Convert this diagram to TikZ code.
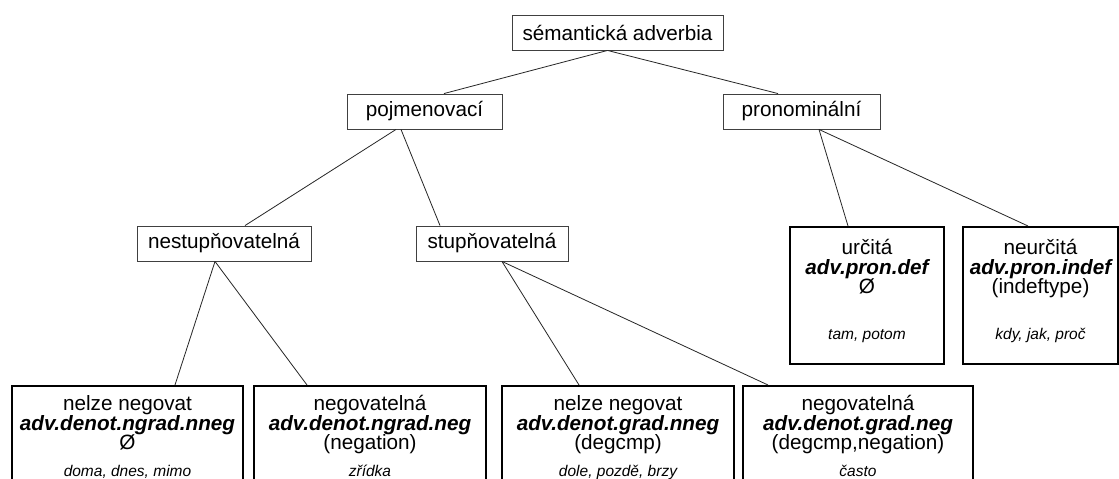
\documentclass[tikz,border=0pt]{standalone}
\usepackage{fontspec}
\setmainfont{Liberation Sans}
\usetikzlibrary{calc}
\begin{document}
\begin{tikzpicture}[x=1pt,y=-1pt,
  catbox/.style={draw=black!75, line width=0.9pt, inner sep=0pt, minimum height=35pt,
    font=\fontsize{20.7}{24}\selectfont},
  leafbox/.style={draw=black, line width=1.6pt, inner sep=0pt, anchor=north},
  leafline/.style={anchor=base, inner sep=0pt, font=\fontsize{20.7}{24}\selectfont},
  tagline/.style={anchor=base, inner sep=0pt, font=\fontsize{20.7}{24}\selectfont\bfseries\itshape},
  exline/.style={anchor=base, inner sep=0pt, font=\fontsize{15.5}{18}\selectfont\itshape},
  edge/.style={draw=black!85, line width=0.8pt}]
\clip (0,0) rectangle (1119,479);
\fill[white] (0,0) rectangle (1119,479);

% upper category boxes
\node[catbox, minimum width=211pt] (root) at (617.5,32.5) {sémantická adverbia};
\node[catbox, minimum width=155pt] (poj) at (424.5,111.5) {pojmenovací};
\node[catbox, minimum width=157pt] (pron) at (801.5,111.5) {pronominální};
\node[catbox, minimum width=174pt] (nest) at (224,243.5) {nestupňovatelná};
\node[catbox, minimum width=152pt] (stup) at (492,243.5) {stupňovatelná};

% pronominal leaves
\node[leafbox, minimum width=154pt, minimum height=137pt] (r1) at (867,226) {};
\node[leafbox, minimum width=155pt, minimum height=137pt] (r2) at (1040.5,226) {};
\node[leafline] (r1a) at ($(r1.north)+(0,28)$) {určitá};
\node[tagline]  (r1b) at ($(r1.north)+(0,48)$) {adv.pron.def};
\node[leafline] (r1c) at ($(r1.north)+(0,67)$) {Ø};
\node[exline]   (r1d) at ($(r1.north)+(0,113)$) {tam, potom};
\node[leafline] (r2a) at ($(r2.north)+(0,28)$) {neurčitá};
\node[tagline]  (r2b) at ($(r2.north)+(0,48)$) {adv.pron.indef};
\node[leafline] (r2c) at ($(r2.north)+(0,67)$) {(indeftype)};
\node[exline]   (r2d) at ($(r2.north)+(0,113)$) {kdy, jak, proč};

% denotational leaves (running off the lower edge)
\node[leafbox, minimum width=231pt, minimum height=140pt] (b1) at (127.5,385) {};
\node[leafbox, minimum width=232pt, minimum height=140pt] (b2) at (370,385) {};
\node[leafbox, minimum width=232pt, minimum height=140pt] (b3) at (618,385) {};
\node[leafbox, minimum width=230pt, minimum height=140pt] (b4) at (858,385) {};

\node[leafline] (b1a) at ($(b1.north)+(0,25)$) {nelze negovat};
\node[tagline]  (b1b) at ($(b1.north)+(0,45)$) {adv.denot.ngrad.nneg};
\node[leafline] (b1c) at ($(b1.north)+(0,64)$) {Ø};
\node[exline]   (b1d) at ($(b1.north)+(0,91)$) {doma, dnes, mimo};

\node[leafline] (b2a) at ($(b2.north)+(0,25)$) {negovatelná};
\node[tagline]  (b2b) at ($(b2.north)+(0,45)$) {adv.denot.ngrad.neg};
\node[leafline] (b2c) at ($(b2.north)+(0,64)$) {(negation)};
\node[exline]   (b2d) at ($(b2.north)+(0,91)$) {zřídka};

\node[leafline] (b3a) at ($(b3.north)+(0,25)$) {nelze negovat};
\node[tagline]  (b3b) at ($(b3.north)+(0,45)$) {adv.denot.grad.nneg};
\node[leafline] (b3c) at ($(b3.north)+(0,64)$) {(degcmp)};
\node[exline]   (b3d) at ($(b3.north)+(0,91)$) {dole, pozdě, brzy};

\node[leafline] (b4a) at ($(b4.north)+(0,25)$) {negovatelná};
\node[tagline]  (b4b) at ($(b4.north)+(0,45)$) {adv.denot.grad.neg};
\node[leafline] (b4c) at ($(b4.north)+(0,64)$) {(degcmp,negation)};
\node[exline]   (b4d) at ($(b4.north)+(0,91)$) {často};

% tree edges
\draw[edge] ($(root.south)+(-10,0)$) -- ($(poj.north)+(19.5,0)$);
\draw[edge] ($(root.south)+(-10,0)$) -- ($(pron.north)+(-23.5,0)$);
\draw[edge] ($(poj.south)+(-28.5,0)$) -- ($(nest.north)+(21,0)$);
\draw[edge] ($(poj.south)+(-23.5,0)$) -- ($(stup.north)+(-52,0)$);
\draw[edge] ($(pron.south)+(17.5,0)$) -- ($(r1.north)+(-19,0)$);
\draw[edge] ($(pron.south)+(17.5,0)$) -- ($(r2.north)+(-12.5,0)$);
\draw[edge] ($(nest.south)+(-9,0)$) -- ($(b1.north)+(47.5,0)$);
\draw[edge] ($(nest.south)+(-9,0)$) -- ($(b2.north)+(-63,0)$);
\draw[edge] ($(stup.south)+(10,0)$) -- ($(b3.north)+(-39,0)$);
\draw[edge] ($(stup.south)+(10,0)$) -- ($(b4.north)+(-90,0)$);
\end{tikzpicture}
\end{document}
